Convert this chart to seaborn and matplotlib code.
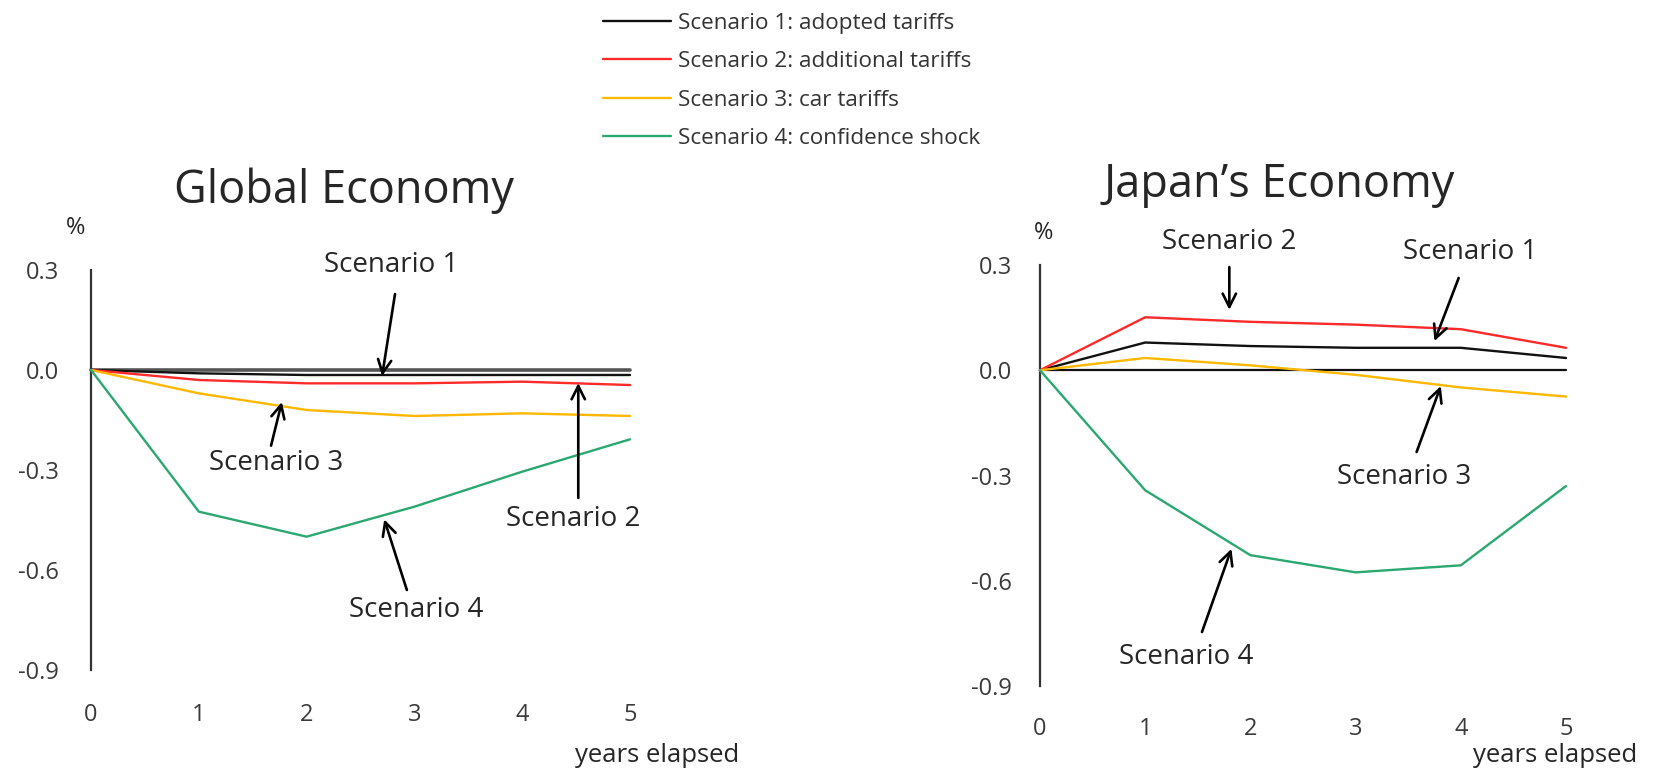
import matplotlib
matplotlib.use("Agg")
import matplotlib.pyplot as plt
import seaborn as sns
import pandas as pd

years = [0, 1, 2, 3, 4, 5]
scenario_names = ["Scenario 1: adopted tariffs", "Scenario 2: additional tariffs",
                  "Scenario 3: car tariffs", "Scenario 4: confidence shock"]
colors = ["#111111", "#ff2a2a", "#ffb800", "#2aa870"]

# Global economy (% deviation)
global_s1 = [0.0, -0.010, -0.015, -0.015, -0.015, -0.015]
global_s2 = [0.0, -0.030, -0.040, -0.040, -0.035, -0.045]
global_s3 = [0.0, -0.070, -0.120, -0.138, -0.130, -0.138]
global_s4 = [0.0, -0.425, -0.500, -0.410, -0.305, -0.208]

# Japan's economy (% deviation)
japan_s1 = [0.0, 0.079, 0.069, 0.064, 0.064, 0.035]
japan_s2 = [0.0, 0.151, 0.138, 0.130, 0.117, 0.064]
japan_s3 = [0.0, 0.035, 0.014, -0.013, -0.049, -0.075]
japan_s4 = [0.0, -0.342, -0.527, -0.576, -0.556, -0.330]

yticks = [0.3, 0.0, -0.3, -0.6, -0.9]


def to_long(series):
    rows = []
    for name, vals in zip(scenario_names, series):
        for x, v in zip(years, vals):
            rows.append({"year": x, "value": v, "scenario": name})
    return pd.DataFrame(rows)


df_global = to_long([global_s1, global_s2, global_s3, global_s4])
df_japan = to_long([japan_s1, japan_s2, japan_s3, japan_s4])

sns.set_style("white")
plt.rcParams["font.family"] = ["Open Sans", "DejaVu Sans"]

fig = plt.figure(figsize=(16.61, 7.71), dpi=100)
ax1 = fig.add_axes([0.0548, 0.131, 0.3245, 0.5188])
ax2 = fig.add_axes([0.6261, 0.1102, 0.3167, 0.5461])

palette = dict(zip(scenario_names, colors))


def draw_panel(ax, df, zero_color, zero_lw, ypad, xpad):
    ax.axhline(0, color=zero_color, lw=zero_lw, zorder=1)
    sns.lineplot(data=df, x="year", y="value", hue="scenario", palette=palette,
                 lw=1.7, ax=ax, legend=False, zorder=3)
    ax.set_xlim(0, 5)
    ax.set_ylim(-0.9, 0.3)
    ax.set_yticks(yticks)
    ax.set_yticklabels([f"{t:.1f}" for t in yticks])
    ax.set_xticks(years)
    for s in ["top", "right", "bottom"]:
        ax.spines[s].set_visible(False)
    ax.spines["left"].set_color("#333333")
    ax.spines["left"].set_linewidth(1.6)
    ax.tick_params(axis="y", direction="in", length=6, width=1.6, color="#333333",
                   pad=ypad, labelsize=17, labelcolor="#3a3a3a")
    ax.tick_params(axis="x", length=0, pad=xpad, labelsize=17, labelcolor="#3a3a3a")
    ax.set_xlabel("")
    ax.set_ylabel("")
    ax.patch.set_alpha(0)
    for line in ax.get_lines():
        line.set_clip_on(False)


draw_panel(ax1, df_global, "#555555", 2.6, 23, 24)
draw_panel(ax2, df_japan, "#111111", 1.6, 20, 22)

fig.text(344 / 1661, 1 - 191 / 771, "Global Economy", fontsize=32.5, ha="center", va="center")
fig.text(1279 / 1661, 1 - 185 / 771, "Japan\u2019s Economy", fontsize=32.5, ha="center", va="center")
fig.text(76 / 1661, 1 - 228 / 771, "%", fontsize=17, ha="center", va="center")
fig.text(1044 / 1661, 1 - 233 / 771, "%", fontsize=17, ha="center", va="center")
fig.text(657 / 1661, 1 - 756 / 771, "years elapsed", fontsize=18.5, ha="center", va="center")
fig.text(1555 / 1661, 1 - 756 / 771, "years elapsed", fontsize=18.5, ha="center", va="center")

arrow = dict(arrowstyle="->", color="black", lw=1.9, mutation_scale=24, shrinkA=0, shrinkB=0)
notes_global = [
    ("Scenario 1", (2.78, 0.315), (2.82, 0.228), (2.70, -0.018)),
    ("Scenario 3", (1.72, -0.28), (1.67, -0.227), (1.77, -0.096)),
    ("Scenario 2", (4.47, -0.448), (4.52, -0.384), (4.52, -0.039)),
    ("Scenario 4", (3.02, -0.721), (2.93, -0.66), (2.72, -0.448)),
]
notes_japan = [
    ("Scenario 2", (1.80, 0.366), (1.80, 0.294), (1.80, 0.172)),
    ("Scenario 1", (4.09, 0.337), (3.98, 0.263), (3.75, 0.083)),
    ("Scenario 3", (3.46, -0.304), (3.58, -0.233), (3.81, -0.045)),
    ("Scenario 4", (1.39, -0.817), (1.54, -0.746), (1.82, -0.509)),
]
for ax, notes in [(ax1, notes_global), (ax2, notes_japan)]:
    for label, txt, tail, head in notes:
        ax.text(txt[0], txt[1], label, fontsize=20, ha="center", va="center")
        ax.annotate("", xy=head, xytext=tail, arrowprops=arrow, annotation_clip=False)

handles = [plt.Line2D([], [], color=c, lw=1.7) for c in colors]
fig.legend(handles, scenario_names, loc="upper left", bbox_to_anchor=(583 / 1661, 1.010),
           frameon=False, fontsize=16.2, handlelength=3.0, handletextpad=0.3,
           labelspacing=0.78, labelcolor="#333333")

fig.savefig("out.png", dpi=100)
